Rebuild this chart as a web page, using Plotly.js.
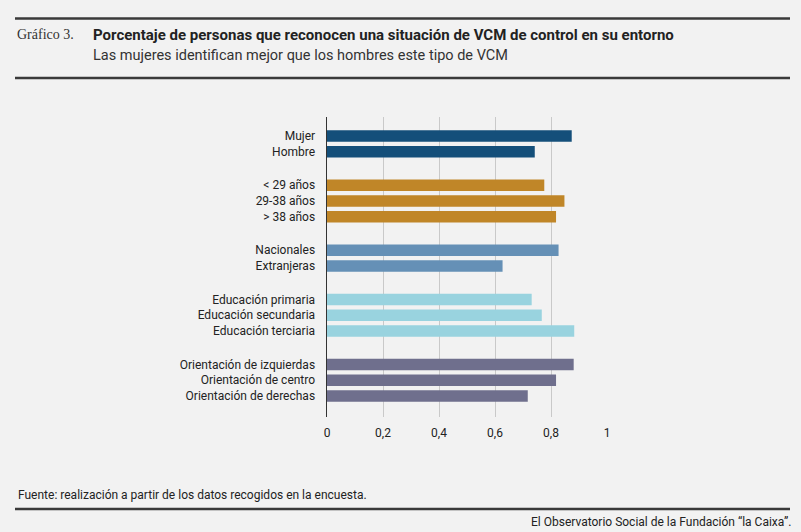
<!DOCTYPE html>
<html>
<head>
<meta charset="utf-8">
<script src="https://cdn.plot.ly/plotly-3.0.1.min.js"></script>
<style>
  html, body { margin: 0; padding: 0; background: #f2f2f2; }
  #chart { width: 801px; height: 532px; }
</style>
</head>
<body>
<div id="chart"></div>
<script>
// groups of the chart, top to bottom
const groupLabels = [
  ["Mujer", "Hombre"],
  ["< 29 años", "29-38 años", "> 38 años"],
  ["Nacionales", "Extranjeras"],
  ["Educación primaria", "Educación secundaria", "Educación terciaria"],
  ["Orientación de izquierdas", "Orientación de centro", "Orientación de derechas"],
];
const groupValues = [
  [0.874, 0.742],
  [0.776, 0.848, 0.818],
  [0.827, 0.627],
  [0.731, 0.767, 0.883],
  [0.881, 0.818, 0.717],
];
const groupColors = ["#144f7a", "#c08628", "#6590b6", "#99d3df", "#6f6f8d"];
const xTicks = [0, 0.2, 0.4, 0.6, 0.8, 1];
const xTickText = ["0", "0,2", "0,4", "0,6", "0,8", "1"];

const GAP = 1.14; // extra space between groups, in bar slots
const traces = [];
const tickvals = [];
const ticktext = [];
let pos = 0;
groupLabels.forEach((labels, g) => {
  const ys = labels.map((_, i) => pos + i);
  ys.forEach((y, i) => { tickvals.push(y); ticktext.push(labels[i]); });
  traces.push({
    type: "bar",
    orientation: "h",
    x: groupValues[g],
    y: ys,
    width: 0.73,
    marker: { color: groupColors[g], line: { width: 0 } },
    hoverinfo: "x+text",
    text: labels,
    textposition: "none",
  });
  pos += labels.length + GAP;
});

// plot area is 280 x 300 px, at (327, 117); helpers turn page pixels into paper units
const px = (v) => (v - 327) / 280;
const py = (v) => (417 - v) / 300;

const lineColor = "#3a3a3a";
const textFont = "Roboto, 'Liberation Sans', sans-serif";
const layout = {
  width: 801,
  height: 532,
  paper_bgcolor: "#f2f2f2",
  plot_bgcolor: "#f2f2f2",
  showlegend: false,
  margin: { l: 327, r: 194, t: 117, b: 115 },
  font: { family: textFont, color: "#222", size: 12 },
  xaxis: {
    range: [0, 1],
    tickvals: xTicks,
    ticktext: xTickText,
    showgrid: true,
    gridcolor: "#c9c9c9",
    gridwidth: 1,
    zeroline: false,
    showline: false,
    ticks: "outside",
    ticklen: 5,
    tickcolor: "rgba(0,0,0,0)",
    tickfont: { size: 12, color: "#222" },
    fixedrange: true,
  },
  yaxis: {
    range: [17.9, -1.21],
    tickvals: tickvals,
    ticktext: ticktext,
    showgrid: false,
    zeroline: false,
    showline: true,
    linecolor: "#333",
    linewidth: 1.5,
    ticks: "outside",
    ticklen: 8,
    tickcolor: "rgba(0,0,0,0)",
    tickfont: { size: 12, color: "#222" },
    fixedrange: true,
  },
  shapes: [
    { type: "line", xref: "paper", yref: "paper", x0: px(15), x1: px(790), y0: py(18.5), y1: py(18.5), line: { color: lineColor, width: 2.5 } },
    { type: "line", xref: "paper", yref: "paper", x0: px(15), x1: px(790), y0: py(78), y1: py(78), line: { color: lineColor, width: 2.5 } },
    { type: "line", xref: "paper", yref: "paper", x0: px(15), x1: px(790), y0: py(509), y1: py(509), line: { color: lineColor, width: 2.5 } },
  ],
  annotations: [
    { xref: "paper", yref: "paper", x: px(15), y: py(35), xanchor: "left", yanchor: "middle", showarrow: false,
      text: "Gráfico 3.", font: { family: "'Liberation Serif', 'DejaVu Serif', serif", size: 14, color: "#333" } },
    { xref: "paper", yref: "paper", x: px(91), y: py(35), xanchor: "left", yanchor: "middle", showarrow: false,
      text: "<b>Porcentaje de personas que reconocen una situación de VCM de control en su entorno</b>",
      font: { family: textFont, size: 15, color: "#222" } },
    { xref: "paper", yref: "paper", x: px(91), y: py(56), xanchor: "left", yanchor: "middle", showarrow: false,
      text: "Las mujeres identifican mejor que los hombres este tipo de VCM",
      font: { family: textFont, size: 14.5, color: "#333" } },
    { xref: "paper", yref: "paper", x: px(16), y: py(495), xanchor: "left", yanchor: "middle", showarrow: false,
      text: "Fuente: realización a partir de los datos recogidos en la encuesta.",
      font: { family: textFont, size: 12, color: "#222" } },
    { xref: "paper", yref: "paper", x: px(793), y: py(522), xanchor: "right", yanchor: "middle", showarrow: false,
      text: "El Observatorio Social de la Fundación “la Caixa”.",
      font: { family: textFont, size: 12, color: "#222" } },
  ],
};

Plotly.newPlot("chart", traces, layout, { displayModeBar: false, staticPlot: true });
</script>
</body>
</html>
